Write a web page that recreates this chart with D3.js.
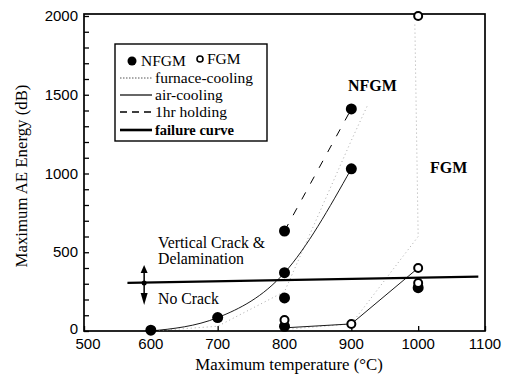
<!DOCTYPE html>
<html><head><meta charset="utf-8">
<script src="https://cdn.jsdelivr.net/npm/d3@7/dist/d3.min.js"></script>
<style>body{margin:0;background:#fff}svg{display:block}</style>
</head><body><svg id="c" width="510" height="382"></svg>
<script>
// ---- data ----
const xTicks = [500,600,700,800,900,1000,1100];
const yTicks = [0,500,1000,1500,2000];
const nfgmX = [600,700,800,800,800,800,900,900,1000];
const nfgmY = [5,85,635,370,210,30,1410,1030,275];
const fgmX = [800,900,1000,1000,1000];
const fgmY = [70,45,400,305,2000];
// air-cooling (solid)
const airNfgmX = [600,700,800,900];
const airNfgmY = [0,85,370,1030];
const airFgmX = [800,900,1000];
const airFgmY = [20,45,400];
// 1hr holding (dashed)
const holdX = [800,900];
const holdY = [635,1410];
// furnace-cooling (dotted)
const furnNfgmX = [600,700,800,900,925];
const furnNfgmY = [0,30,250,1210,1440];
const furnFgmX = [800,900,1000,995];
const furnFgmY = [10,45,600,1960];
// failure curve
const failX = [565,1090];
const failY = [305,345];

const svg = d3.select('#c');
const x = d3.scaleLinear().domain([500,1100]).range([84,485]);
const y = d3.scaleLinear().domain([0,2000]).range([331,16]);
const serif = "'Liberation Serif','Times New Roman',serif";
const sans = "'Liberation Sans',Arial,sans-serif";

// frame
svg.append('rect').attr('x',x(500)).attr('y',y(2000)-2).attr('width',x(1100)-x(500)).attr('height',y(0)-y(2000)+2)
  .attr('fill','none').attr('stroke','#000').attr('stroke-width',1.7);

// axes ticks inward
const yAx = d3.axisRight(y).tickValues(d3.range(0,2001,100)).tickSize(5).tickFormat('');
svg.append('g').attr('transform',`translate(${x(500)},0)`).call(yAx).call(g=>g.select('.domain').remove())
  .selectAll('line').attr('stroke','#000').attr('stroke-width',1.3);
svg.append('g').attr('font-family',sans).attr('font-size',15)
  .selectAll('text').data(yTicks).join('text')
  .attr('x',x(500)-6).attr('y',d=>y(d)+(d===0?3:5)).attr('text-anchor','end').text(d=>d);
const xAx = d3.axisTop(x).tickValues(xTicks).tickSize(5).tickFormat('');
svg.append('g').attr('transform',`translate(0,${y(0)})`).call(xAx).call(g=>g.select('.domain').remove())
  .selectAll('line').attr('stroke','#000').attr('stroke-width',1.3);
svg.append('g').attr('font-family',sans).attr('font-size',15)
  .selectAll('text').data(xTicks).join('text')
  .attr('x',d=>x(d)+(d===500?4:0)).attr('y',y(0)+18).attr('text-anchor','middle').text(d=>d);

// axis titles
svg.append('text').attr('x',289).attr('y',370).attr('text-anchor','middle')
  .attr('font-family',serif).attr('font-size',16.8).text('Maximum temperature (°C)');
svg.append('text').attr('transform','translate(27,176) rotate(-90)').attr('text-anchor','middle')
  .attr('font-family',serif).attr('font-size',16.8).text('Maximum AE Energy (dB)');

const zip = (a,b)=>a.map((v,i)=>[v,b[i]]);
const line = d3.line().x(d=>x(d[0])).y(d=>y(d[1]));
const curve = d3.line().x(d=>x(d[0])).y(d=>y(d[1])).curve(d3.curveMonotoneX);

// furnace-cooling dotted
svg.append('path').attr('d',line(zip(furnNfgmX,furnNfgmY))).attr('fill','none')
  .attr('stroke','#aaa').attr('stroke-width',1).attr('stroke-dasharray','1,3');
svg.append('path').attr('d',line(zip(furnFgmX,furnFgmY))).attr('fill','none')
  .attr('stroke','#aaa').attr('stroke-width',1).attr('stroke-dasharray','1,3');
// air-cooling solid
svg.append('path').attr('d',curve(zip(airNfgmX,airNfgmY))).attr('fill','none')
  .attr('stroke','#000').attr('stroke-width',0.9);
svg.append('path').attr('d',line(zip(airFgmX,airFgmY))).attr('fill','none')
  .attr('stroke','#000').attr('stroke-width',0.9);
// 1hr holding dashed
svg.append('path').attr('d',line(zip(holdX,holdY))).attr('fill','none')
  .attr('stroke','#000').attr('stroke-width',1).attr('stroke-dasharray','8,10');
// failure curve
svg.append('path').attr('d',line(zip(failX,failY))).attr('fill','none')
  .attr('stroke','#000').attr('stroke-width',2.2);

// arrows
const ax = x(590), ay = y(305);
svg.append('path').attr('d',`M${ax},${ay} V${ay-12}`).attr('stroke','#000').attr('stroke-width',1.5);
svg.append('path').attr('d',`M${ax-3.5},${ay-10} L${ax},${ay-18} L${ax+3.5},${ay-10}Z`).attr('fill','#000');
svg.append('path').attr('d',`M${ax},${ay} V${ay+12}`).attr('stroke','#000').attr('stroke-width',1.5);
svg.append('path').attr('d',`M${ax-3.5},${ay+10} L${ax},${ay+22} L${ax+3.5},${ay+10}Z`).attr('fill','#000');
svg.append('circle').attr('cx',ax).attr('cy',ay).attr('r',2.5).attr('fill','#000');

// points
svg.append('g').selectAll('circle').data(zip(nfgmX,nfgmY)).join('circle')
  .attr('cx',d=>x(d[0])).attr('cy',d=>y(d[1])).attr('r',5.5).attr('fill','#000');
svg.append('g').selectAll('circle').data(zip(fgmX,fgmY)).join('circle')
  .attr('cx',d=>x(d[0])).attr('cy',d=>y(d[1])).attr('r',4).attr('fill','#fff')
  .attr('stroke','#000').attr('stroke-width',2);

// annotations
const ann = svg.append('g').attr('font-family',serif).attr('font-size',15.8);
ann.append('text').attr('x',158).attr('y',248).text('Vertical Crack &');
ann.append('text').attr('x',158).attr('y',264).text('Delamination');
ann.append('text').attr('x',158).attr('y',304).text('No Crack');
ann.append('text').attr('x',348).attr('y',91).attr('font-weight','bold').attr('font-size',16).text('NFGM');
ann.append('text').attr('x',430).attr('y',173).attr('font-weight','bold').attr('font-size',16).text('FGM');

// legend
const lg = svg.append('g').attr('font-family',serif).attr('font-size',15.5);
lg.append('rect').attr('x',115).attr('y',44).attr('width',152).attr('height',97)
  .attr('fill','#fff').attr('stroke','#000').attr('stroke-width',1.4);
lg.append('circle').attr('cx',132).attr('cy',61).attr('r',4.5).attr('fill','#000');
lg.append('text').attr('x',141).attr('y',66).text('NFGM');
lg.append('circle').attr('cx',200).attr('cy',59).attr('r',3).attr('fill','none').attr('stroke','#000').attr('stroke-width',1.6);
lg.append('text').attr('x',207).attr('y',64).text('FGM');
const rows = [
  {t:'furnace-cooling', y:78, dash:'1.5,1.5', w:1, c:'#555'},
  {t:'air-cooling', y:95, dash:null, w:1.2, c:'#000'},
  {t:'1hr holding', y:112, dash:'7,5', w:1.3, c:'#000'},
  {t:'failure curve', y:130, dash:null, w:2.6, c:'#000', bold:true}
];
rows.forEach(r=>{
  lg.append('line').attr('x1',120).attr('x2',152).attr('y1',r.y).attr('y2',r.y)
    .attr('stroke',r.c).attr('stroke-width',r.w).attr('stroke-dasharray',r.dash);
  lg.append('text').attr('x',155).attr('y',r.y+4.5).attr('font-weight',r.bold?'bold':null)
    .attr('font-size',r.bold?14.5:null).text(r.t);
});
</script></body></html>
